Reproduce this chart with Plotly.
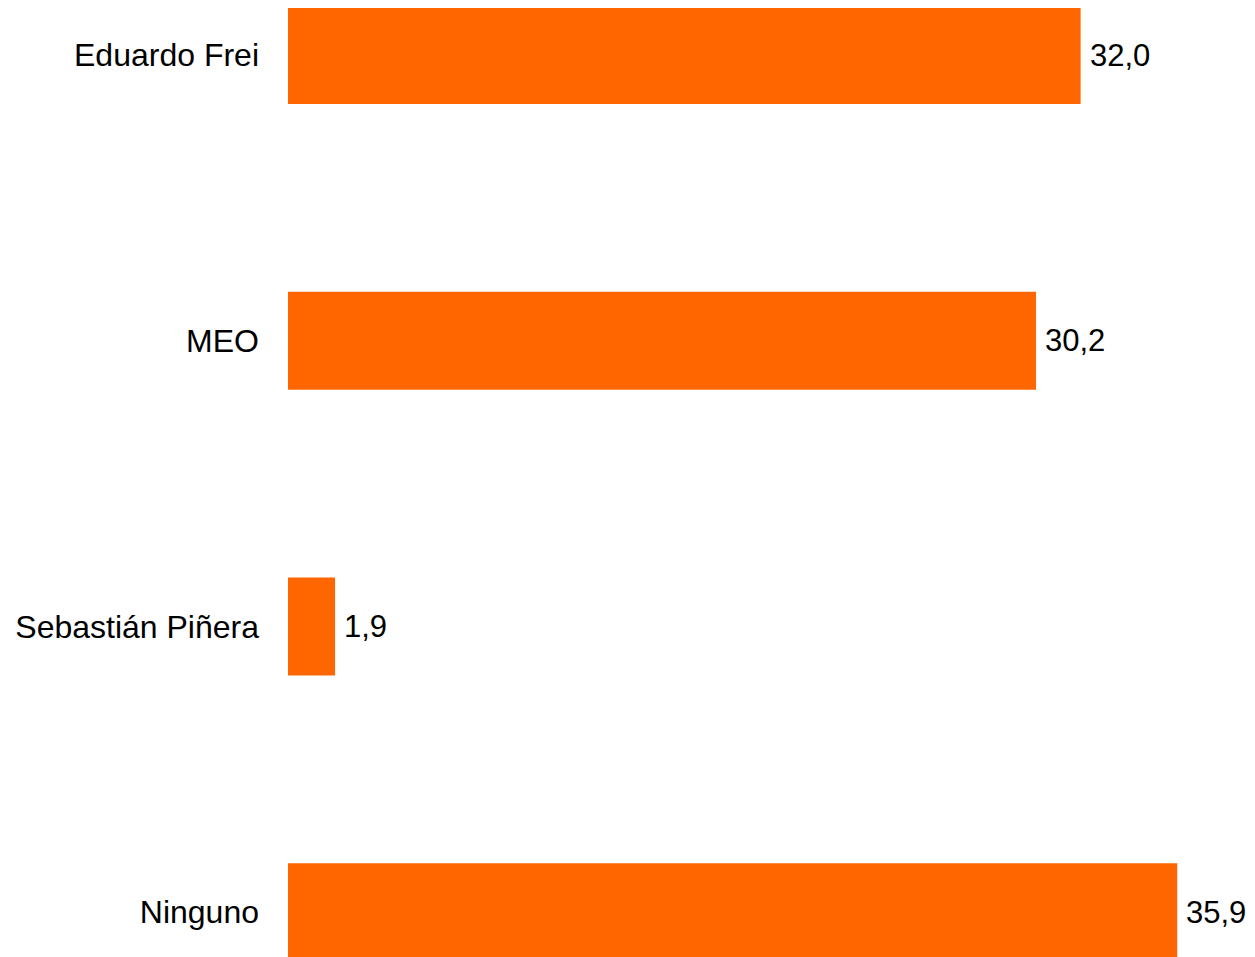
import plotly.graph_objects as go

categories = ["Eduardo Frei", "MEO", "Sebastián Piñera", "Ninguno"]
values = [32.0, 30.2, 1.9, 35.9]
value_labels = ["32,0", "30,2", "1,9", "35,9"]
bar_color = "#FF6600"

fig = go.Figure(
    go.Bar(
        x=values,
        y=categories,
        orientation="h",
        marker=dict(color=bar_color, line=dict(width=0)),
        width=0.343,
        hoverinfo="skip",
    )
)

for cat, val, lab in zip(categories, values, value_labels):
    fig.add_annotation(
        x=val, y=cat, text=lab, showarrow=False,
        xanchor="left", yanchor="middle", xshift=7,
        font=dict(size=31, color="black", family="Liberation Sans, Arial, sans-serif"),
    )

fig.update_layout(
    width=1247,
    height=949,
    margin=dict(l=280, r=0, t=0, b=0),
    paper_bgcolor="white",
    plot_bgcolor="white",
    showlegend=False,
    font=dict(family="Liberation Sans, Arial, sans-serif", size=32, color="black"),
    xaxis=dict(range=[0, 39.04], visible=False, fixedrange=True),
    yaxis=dict(
        type="category",
        categoryorder="array",
        categoryarray=categories,
        range=[3.157, -0.1645],
        showgrid=False,
        zeroline=False,
        showline=False,
        ticks="",
        ticklabelstandoff=28,
        tickfont=dict(size=32, color="black"),
    ),
)

fig.write_html("out.html")
